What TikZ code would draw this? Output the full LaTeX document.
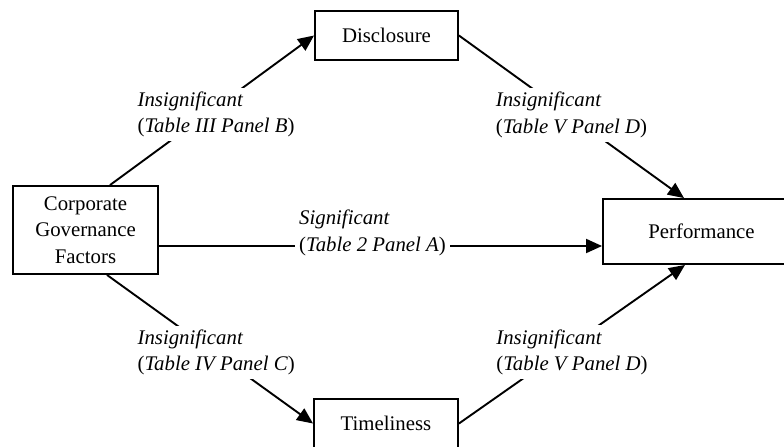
\documentclass[tikz,border=0pt]{standalone}
\usepackage{fontspec}
\setmainfont{Liberation Serif}
\usetikzlibrary{arrows.meta, positioning}

\begin{document}
\begin{tikzpicture}[x=0.5pt, y=-0.5pt, line width=0.95pt,
  font=\fontsize{10.4}{13.2}\selectfont,
  box/.style={draw, align=center, inner sep=0pt},
  lbl/.style={fill=white, align=left, inner sep=2pt},
  arr/.style={-{Triangle[length=8pt, width=7pt]}}]
  \useasboundingbox (0,0) rectangle (784,446);

  % Boxes
  \node[box, minimum width=72.5pt, minimum height=44pt] (cgf) at (85.5,230) {Corporate\\Governance\\Factors};
  \node[box, minimum width=71.5pt, minimum height=24.5pt] (disc) at (386.5,35.5) {Disclosure};
  \node[box, minimum width=72pt, minimum height=24.5pt] (time) at (386,423.5) {Timeliness};
  \node[box, minimum width=98.5pt, minimum height=32.5pt] (perf) at (701.5,231.5) {Performance};

  % Upper path
  \draw[arr] ([xshift=12.25pt]cgf.north) -- node[lbl, pos=.52, yshift=-3.5pt] (lblB)
    {\textit{Insignificant}\\(\textit{Table III Panel B})} (disc.west);
  \draw[arr] (disc.east) -- node[lbl, pos=.5, yshift=1pt] (lblD1)
    {\textit{Insignificant}\\(\textit{Table V Panel D})} ([xshift=-8.75pt]perf.north);

  % Direct path
  \coordinate (gA) at ([yshift=-8pt]cgf.east);
  \draw[arr] (gA) -- node[lbl, pos=.482] (tabA) {(\textit{Table 2 Panel A})} (gA -| perf.west);
  \node[lbl, anchor=base west] (sigA) at ([yshift=13.5pt]tabA.base west) {\textit{Significant}};

  % Lower path
  \draw[arr] ([xshift=10.75pt]cgf.south) -- node[lbl, pos=.53, yshift=0.5pt] (lblC)
    {\textit{Insignificant}\\(\textit{Table IV Panel C})} (time.west);
  \draw[arr] (time.east) -- node[lbl, pos=.5, yshift=-4pt] (lblD2)
    {\textit{Insignificant}\\(\textit{Table V Panel D})} ([xshift=-8.25pt]perf.south);
\end{tikzpicture}
\end{document}
